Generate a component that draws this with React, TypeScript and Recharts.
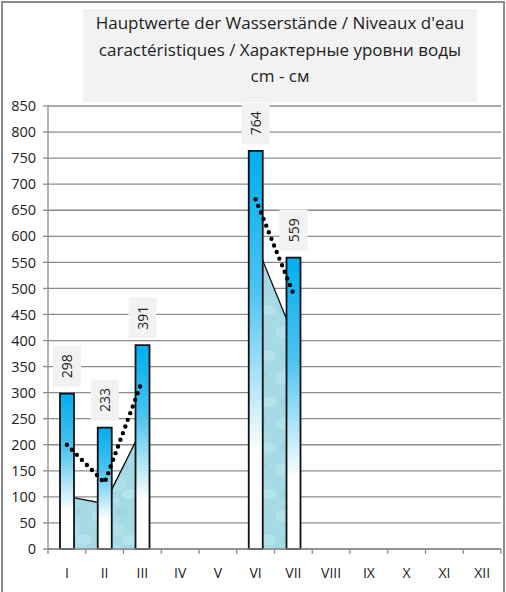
import React from 'react';
import { ComposedChart, Bar, Line, Area, XAxis, YAxis, CartesianGrid, LabelList } from 'recharts';

const months = ['I', 'II', 'III', 'IV', 'V', 'VI', 'VII', 'VIII', 'IX', 'X', 'XI', 'XII'];
const maxLevels = [298, 233, 391, null, null, 764, 559, null, null, null, null, null];
const meanLevels = [200, 127, 324, null, null, 671, 490, null, null, null, null, null];
const minLevels = [101, 87, 232, null, null, 587, 409, null, null, null, null, null];
const yTicks = [0, 50, 100, 150, 200, 250, 300, 350, 400, 450, 500, 550, 600, 650, 700, 750, 800, 850];
const titleLines = [
  'Hauptwerte der Wasserstände / Niveaux d\'eau',
  'caractéristiques / Характерные уровни воды',
  'cm - см',
];

const data = months.map((m, i) => ({
  month: m,
  max: maxLevels[i],
  mean: meanLevels[i],
  min: minLevels[i],
}));

const FONT = '"Open Sans", "Liberation Sans", Arial, sans-serif';

const XTick = (props: any) => {
  const { x, y, payload, index } = props;
  const half = payload && payload.offset ? payload.offset : 18.9;
  return (
    <g>
      <line x1={x - half} x2={x - half} y1={y} y2={y + 5} stroke="#8c8c8c" strokeWidth={1.3} />
      {index === months.length - 1 && (
        <line x1={x + half} x2={x + half} y1={y} y2={y + 5} stroke="#8c8c8c" strokeWidth={1.3} />
      )}
      <text x={x} y={y + 29} textAnchor="middle" fontSize={14} fontFamily={FONT} fill="#222">
        {payload.value}
      </text>
    </g>
  );
};

const ValueLabel = (props: any) => {
  const { x, y, width, value } = props;
  if (value === null || value === undefined) return null;
  const cx = x + width / 2;
  const boxH = 41;
  const boxW = 28;
  const bottom = y - 7;
  const cy = bottom - boxH / 2;
  return (
    <g>
      <rect x={cx - boxW / 2} y={bottom - boxH} width={boxW} height={boxH} fill="#F2F2F2" />
      <text
        x={cx}
        y={cy}
        transform={`rotate(-90 ${cx} ${cy})`}
        textAnchor="middle"
        dominantBaseline="central"
        fontSize={14}
        fontFamily={FONT}
        fill="#222"
      >
        {value}
      </text>
    </g>
  );
};

export default function App() {
  return (
    <div style={{ position: 'absolute', left: 0, top: 0, width: 506, height: 592, background: '#fff', overflow: 'hidden' }}>
      <div
        style={{
          position: 'absolute',
          left: 1,
          top: 1,
          width: 500,
          height: 600,
          borderLeft: '2px solid #8c8c8c',
          borderTop: '2px solid #8c8c8c',
          borderRight: '2px solid #8c8c8c',
        }}
      />
      <div
        style={{
          position: 'absolute',
          left: 83,
          top: 9,
          width: 394,
          height: 93,
          background: '#F2F2F2',
          textAlign: 'center',
          fontFamily: FONT,
          fontSize: 17,
          lineHeight: '26.5px',
          paddingTop: 1,
          boxSizing: 'border-box',
          color: '#222',
        }}
      >
        {titleLines.map((t) => (
          <div key={t}>{t}</div>
        ))}
      </div>
      <div style={{ position: 'absolute', left: 0, top: 0 }}>
        <ComposedChart width={506} height={592} data={data} margin={{ top: 106, right: 5, bottom: 13, left: 0 }}>
          <defs>
            <linearGradient id="barGrad" x1="0" y1="0" x2="0" y2="1">
              <stop offset="0" stopColor="#00AEEF" />
              <stop offset="0.35" stopColor="#4CC3F0" />
              <stop offset="0.76" stopColor="#FFFFFF" />
              <stop offset="1" stopColor="#FFFFFF" />
            </linearGradient>
            <pattern id="water" patternUnits="userSpaceOnUse" width="46" height="46">
              <rect width="46" height="46" fill="#A6DBE5" />
              <ellipse cx="8" cy="10" rx="10" ry="6" fill="#B9E5EC" opacity="0.7" />
              <ellipse cx="30" cy="6" rx="7" ry="4" fill="#97D0DC" opacity="0.6" />
              <ellipse cx="24" cy="24" rx="11" ry="7" fill="#B4E3EA" opacity="0.7" />
              <ellipse cx="38" cy="34" rx="8" ry="5" fill="#BFE8EE" opacity="0.6" />
              <ellipse cx="10" cy="34" rx="7" ry="5" fill="#98D1DC" opacity="0.5" />
              <ellipse cx="22" cy="41" rx="6" ry="3" fill="#B6E4EB" opacity="0.6" />
            </pattern>
          </defs>
          <CartesianGrid xAxisId="cat" vertical={false} stroke="#8c8c8c" strokeWidth={1.3} />
          <XAxis
            xAxisId="cat"
            dataKey="month"
            type="category"
            height={30}
            tickSize={0}
            tickMargin={0}
            tickLine={false}
            axisLine={{ stroke: '#8c8c8c', strokeWidth: 1.3 }}
            tick={<XTick />}
            interval={0}
          />
          <YAxis
            domain={[0, 850]}
            ticks={yTicks}
            width={48}
            tickSize={5}
            tickMargin={7}
            interval={0}
            axisLine={{ stroke: '#8c8c8c', strokeWidth: 1.3 }}
            tickLine={{ stroke: '#8c8c8c', strokeWidth: 1.3 }}
            tick={{ fontSize: 14.5, fontFamily: FONT, fill: '#222' }}
          />
          <Area
            xAxisId="cat"
            type="linear"
            dataKey="min"
            fill="url(#water)"
            fillOpacity={1}
            stroke="#111"
            strokeWidth={1.3}
            isAnimationActive={false}
            connectNulls={false}
            dot={false}
            activeDot={false}
          />
          <Bar
            xAxisId="cat"
            dataKey="max"
            barSize={14}
            fill="url(#barGrad)"
            stroke="#111"
            strokeWidth={1.8}
            isAnimationActive={false}
          >
            <LabelList dataKey="max" content={<ValueLabel />} />
          </Bar>
          <Line
            xAxisId="cat"
            type="linear"
            dataKey="mean"
            stroke="#000"
            strokeWidth={4.4}
            strokeDasharray="0 7.1"
            strokeLinecap="round"
            dot={false}
            activeDot={false}
            connectNulls={false}
            isAnimationActive={false}
          />
        </ComposedChart>
      </div>
    </div>
  );
}
